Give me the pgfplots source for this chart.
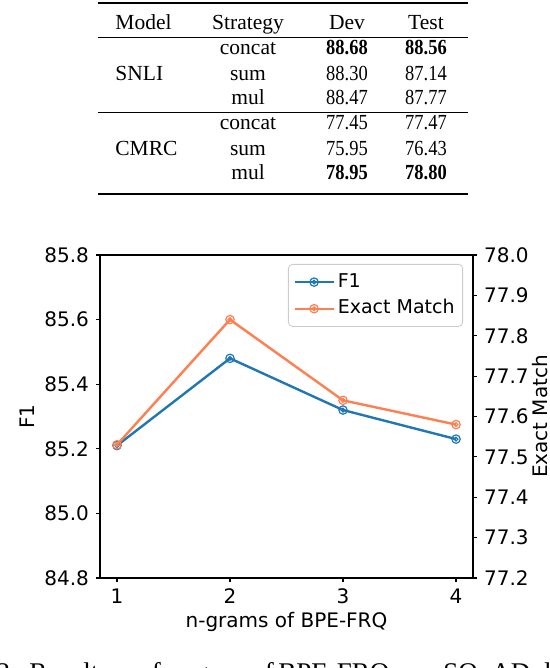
\documentclass[border=0pt]{standalone}
\usepackage{fontspec}
\setmainfont{Liberation Serif}
\newfontfamily\dejavu{DejaVu Sans}
\usepackage{graphicx}
\usepackage{pgfplots}
\pgfplotsset{compat=1.18}

\definecolor{f1blue}{HTML}{1F77B4}
\definecolor{emorange}{HTML}{FF7F50}

% circle with an inner ring, as in the original markers
\pgfdeclareplotmark{ring}{%
  \pgfpathcircle{\pgfpointorigin}{\pgfplotmarksize}\pgfusepathqstroke
  \pgfpathcircle{\pgfpointorigin}{0.45\pgfplotmarksize}\pgfusepathqstroke}

\pgfplotsset{
  twin/.style={
    at={(50pt,45pt)}, anchor=south west, scale only axis,
    width=186.5pt, height=161.5pt,
    xmin=0.85, xmax=4.15,
    tick align=outside, major tick length=2pt,
    axis line style={line width=0.6pt},
    tick style={line width=0.6pt, black},
    label style={font=\dejavu\fontsize{10}{12}\selectfont},
    tick label style={font=\dejavu\fontsize{10}{12}\selectfont},
    /pgf/number format/assume math mode=true,
    yticklabel style={/pgf/number format/.cd, fixed, fixed zerofill, precision=1},
  },
  f1line/.style={f1blue, line width=1.2pt, mark=ring, mark size=2.1pt,
    mark options={solid, line width=0.6pt}},
  emline/.style={emorange, line width=1.2pt, mark=ring, mark size=2.1pt,
    mark options={solid, line width=0.6pt}},
}

\newcommand\nb[1]{\scalebox{0.86}[1]{#1}}

\begin{document}
\begin{tikzpicture}
\useasboundingbox (0,0) rectangle (275pt,334pt);

% ---- table ----
\draw[line width=1pt] (49pt,332.6pt) -- (234pt,332.6pt);
\draw[line width=0.6pt] (49pt,315.4pt) -- (234pt,315.4pt);
\draw[line width=0.6pt] (49pt,277.6pt) -- (234pt,277.6pt);
\draw[line width=1pt] (49pt,237pt) -- (234pt,237pt);
\begin{scope}[every node/.style={font=\fontsize{10.75}{12}\selectfont, inner sep=0pt, anchor=base}]
  \node[anchor=base west] at (57.5pt,319.4pt) {Model};
  \node at (124pt,319.4pt) {Strategy};
  \node at (173.5pt,319.4pt) {Dev};
  \node at (213pt,319.4pt) {Test};
  \node[anchor=base west] at (57.5pt,293.5pt) {SNLI};
  \node[anchor=base west] at (57.5pt,256pt) {CMRC};
  \foreach \y/\s/\d/\t in {
      306.5/concat/\textbf{88.68}/\textbf{88.56},
      293.5/sum/88.30/87.14,
      281.5/mul/88.47/87.77,
      269/concat/77.45/77.47,
      256/sum/75.95/76.43,
      244/mul/\textbf{78.95}/\textbf{78.80}}{
    \node at (124pt,\y pt) {\s};
    \node at (173.5pt,\y pt) {\nb{\d}};
    \node at (213pt,\y pt) {\nb{\t}};
  }
\end{scope}

% ---- chart ----
\begin{axis}[twin,
  ymin=84.8, ymax=85.8,
  xtick={1,2,3,4}, ytick={84.8,85.0,85.2,85.4,85.6,85.8},
  xtick pos=left, ytick pos=left,
  xlabel={n-grams of BPE-FRQ}, ylabel={F1},
  xlabel style={at={(axis description cs:0.5,0)}, anchor=base, yshift=-24.5pt},
  ylabel style={at={(axis description cs:-0.196,0.5)}, anchor=center},
]
\addplot[f1line] coordinates {(1,85.21) (2,85.48) (3,85.32) (4,85.23)};
\end{axis}

\begin{axis}[twin,
  ymin=77.2, ymax=78.0,
  axis x line=none, axis y line*=right,
  ytick={77.2,77.3,77.4,77.5,77.6,77.7,77.8,77.9,78.0},
  ylabel={Exact Match},
  ylabel style={at={(axis description cs:1.18,0.5)}, anchor=center},
  legend style={at={(1,1)}, anchor=north east, xshift=-5pt, yshift=-4.5pt,
    draw=black!20, rounded corners=2pt, fill=white,
    font=\dejavu\fontsize{9.5}{11}\selectfont,
    inner xsep=2.5pt, inner ysep=2.6pt, row sep=0.8pt,
    nodes={text height=7.3pt, text depth=2.2pt, inner sep=1.5pt}},
  legend cell align=left,
  legend image code/.code={\draw[mark repeat=2,mark phase=2,#1]
    plot coordinates {(0pt,0pt) (9.75pt,0pt) (19.5pt,0pt)};},
]
\addlegendimage{f1line}
\addlegendentry{F1}
\addplot[emline] coordinates {(1,77.53) (2,77.84) (3,77.64) (4,77.58)};
\addlegendentry{Exact Match}
\end{axis}

% ---- caption, cut off by the page edge as in the original ----
\begin{scope}[every node/.style={font=\fontsize{13.5}{16}\selectfont, inner sep=0pt, anchor=base west}]
  \node[anchor=base east] at (9pt,-6.5pt) {Figure 2:};
  \node at (14.5pt,-6.5pt) {Results};
  \node at (69pt,-6.5pt) {of};
  \node at (86pt,-6.5pt) {n-grams};
  \node at (125.5pt,-6.5pt) {of};
  \node at (139pt,-6.5pt) {BPE-FRQ};
  \node at (200pt,-6.5pt) {on};
  \node at (221.5pt,-6.5pt) {SQuAD};
  \node at (268.5pt,-6.5pt) {dev};
\end{scope}
\end{tikzpicture}
\end{document}
